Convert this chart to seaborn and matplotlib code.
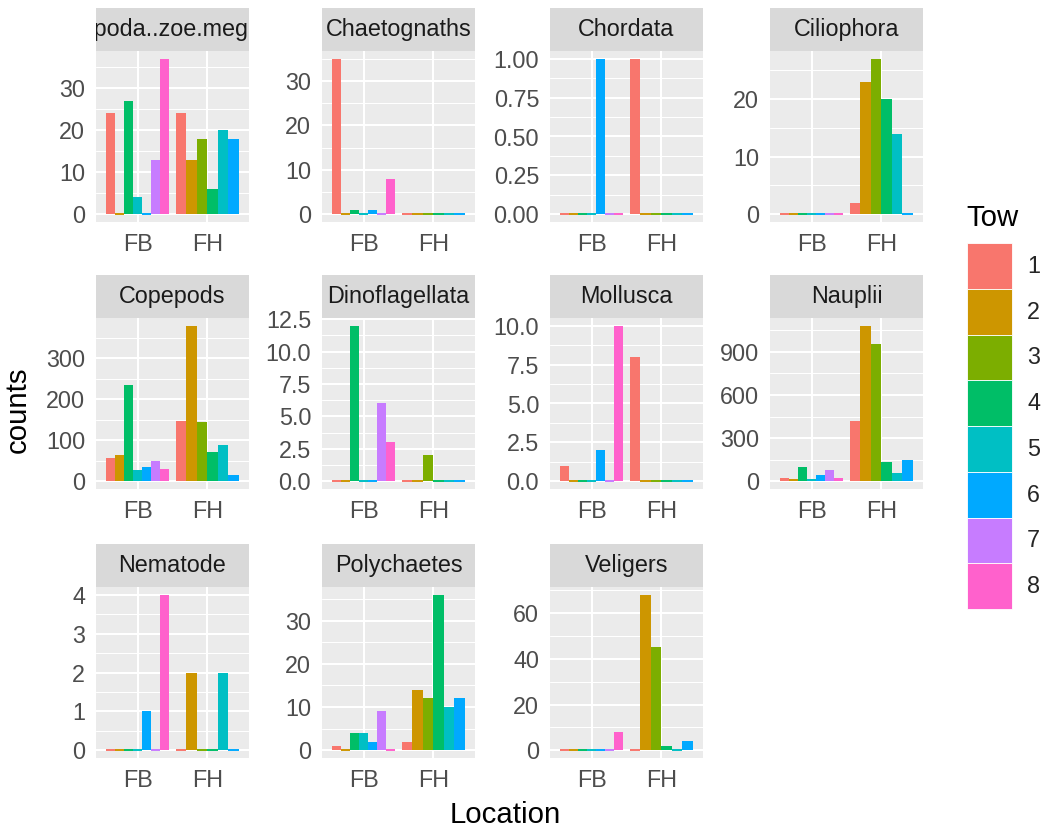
# Faceted bar chart of counts per taxon, by Location and Tow

import numpy as np
import pandas as pd
import matplotlib
matplotlib.use("Agg")
import matplotlib.pyplot as plt
from matplotlib.patches import Patch
import seaborn as sns

# ============================================================
# Data
# ============================================================

taxa = ["Decapoda..zoe.megalopa", "Chaetognaths", "Chordata", "Ciliophora",
        "Copepods", "Dinoflagellata", "Mollusca", "Nauplii",
        "Nematode", "Polychaetes", "Veligers"]
locations = ["FB", "FH"]
fb_tows = [1, 2, 4, 5, 6, 7, 8]
fh_tows = [1, 2, 3, 4, 5, 6]

fb_counts = [
    [24, 0, 27, 4, 0, 13, 37],
    [35, 0, 1, 0, 1, 0, 8],
    [0, 0, 0, 0, 1, 0, 0],
    [0, 0, 0, 0, 0, 0, 0],
    [56, 64, 235, 28, 34, 50, 30],
    [0, 0, 12, 0, 0, 6, 3],
    [1, 0, 0, 0, 2, 0, 10],
    [23, 14, 102, 16, 41, 80, 25],
    [0, 0, 0, 0, 1, 0, 4],
    [1, 0, 4, 4, 2, 9, 0],
    [0, 0, 0, 0, 0, 0, 8],
]
fh_counts = [
    [24, 13, 18, 6, 20, 18],
    [0, 0, 0, 0, 0, 0],
    [1, 0, 0, 0, 0, 0],
    [2, 23, 27, 20, 14, 0],
    [146, 379, 144, 72, 88, 14],
    [0, 0, 2, 0, 0, 0],
    [8, 0, 0, 0, 0, 0],
    [417, 1081, 951, 137, 57, 150],
    [0, 2, 0, 0, 2, 0],
    [2, 14, 12, 36, 10, 12],
    [0, 68, 45, 2, 0, 4],
]

y_breaks = [
    [0, 10, 20, 30],
    [0, 10, 20, 30],
    [0, 0.25, 0.5, 0.75, 1.0],
    [0, 10, 20],
    [0, 100, 200, 300],
    [0, 2.5, 5, 7.5, 10, 12.5],
    [0, 2.5, 5, 7.5, 10],
    [0, 300, 600, 900],
    [0, 1, 2, 3, 4],
    [0, 10, 20, 30],
    [0, 20, 40, 60],
]
y_decimals = [0, 0, 2, 0, 0, 1, 1, 0, 0, 0, 0]

tow_levels = ["1", "2", "3", "4", "5", "6", "7", "8"]
tow_colors = ["#F8766D", "#CD9600", "#7CAE00", "#00BE67",
              "#00BFC4", "#00A9FF", "#C77CFF", "#FF61CC"]

# ============================================================
# Long table with dodge positions (ggplot style, width 0.9)
# ============================================================

rows = []
for k, taxon in enumerate(taxa):
    for li, (tows, counts) in enumerate([(fb_tows, fb_counts[k]), (fh_tows, fh_counts[k])]):
        n = len(tows)
        for i, (t, c) in enumerate(zip(tows, counts)):
            rows.append({
                "taxon": taxon,
                "Location": locations[li],
                "Tow": str(t),
                "counts": c,
                "pos": li + 0.9 * ((i + 0.5) / n - 0.5),
            })
df = pd.DataFrame(rows)

# ============================================================
# Style
# ============================================================

sns.set_theme(style="darkgrid")
plt.rcParams["font.family"] = ["Liberation Sans", "DejaVu Sans"]

TICK_FS = 16.8
TITLE_FS = 21.2

W, H = 1044, 830
fig = plt.figure(figsize=(W / 100, H / 100), dpi=100)
fig.patch.set_facecolor("white")

col_left = [96, 322, 550, 770]
row_top = [51, 318, 587]
panel_w, panel_h, strip_h = 153, 171, 43

palette = dict(zip(tow_levels, tow_colors))

for k, taxon in enumerate(taxa):
    r, c = divmod(k, 4)
    x0, y0 = col_left[c], row_top[r]
    ax = fig.add_axes([x0 / W, 1 - (y0 + panel_h) / H, panel_w / W, panel_h / H])
    ax.set_facecolor("#EBEBEB")

    for loc in locations:
        sub = df[(df["taxon"] == taxon) & (df["Location"] == loc)]
        sns.barplot(data=sub, x="pos", y="counts", hue="Tow",
                    hue_order=tow_levels, palette=palette, saturation=1,
                    native_scale=True, dodge=False, width=1.0,
                    errorbar=None, legend=False, linewidth=0, ax=ax)

    # zero-height bars show as thin coloured lines
    for p in ax.patches:
        if p.get_height() == 0:
            p.set_edgecolor(p.get_facecolor())
            p.set_linewidth(1.4)

    ymax = df.loc[df["taxon"] == taxon, "counts"].max()
    ax.set_ylim(-0.05 * ymax, 1.05 * ymax)
    ax.set_xlim(-0.6, 1.6)

    breaks = y_breaks[k]
    step = breaks[1] - breaks[0]
    minors = np.arange(breaks[0] - step / 2, breaks[-1] + step, step)
    minors = [m for m in minors if -0.05 * ymax <= m <= 1.05 * ymax]
    ax.set_yticks(breaks)
    ax.set_yticklabels([f"{b:.{y_decimals[k]}f}" for b in breaks])
    ax.set_yticks(minors, minor=True)
    ax.set_xticks([0, 1])
    ax.set_xticklabels(locations)
    ax.set_xlabel("")
    ax.set_ylabel("")

    ax.set_axisbelow(True)
    ax.grid(which="major", color="white", linewidth=1.5)
    ax.grid(which="minor", axis="y", color="white", linewidth=0.75)
    ax.tick_params(which="major", length=4.8, width=1.2, color="#333333",
                   labelsize=TICK_FS, labelcolor="#4D4D4D", pad=3)
    ax.tick_params(which="minor", length=0)
    for s in ax.spines.values():
        s.set_visible(False)

    # facet strip
    sax = fig.add_axes([x0 / W, 1 - y0 / H, panel_w / W, strip_h / H])
    sax.set_facecolor("#D9D9D9")
    sax.set_xticks([])
    sax.set_yticks([])
    for s in sax.spines.values():
        s.set_visible(False)
    sax.text(0.5, 0.5, taxon, ha="center", va="center", fontsize=TICK_FS,
             color="#1A1A1A", transform=sax.transAxes, clip_on=True)

# ============================================================
# Axis titles and legend
# ============================================================

fig.text(18 / W, 1 - 410 / H, "counts", rotation=90, ha="center", va="center",
         fontsize=TITLE_FS, color="black")
fig.text(505 / W, 1 - 815 / H, "Location", ha="center", va="center",
         fontsize=TITLE_FS, color="black")

fig.text(966 / W, 1 - 218 / H, "Tow", ha="left", va="center",
         fontsize=TITLE_FS, color="black")

handles = [Patch(facecolor=col, edgecolor="white", linewidth=0.6, label=lab)
           for lab, col in zip(tow_levels, tow_colors)]
fig.legend(handles=handles, loc="upper left",
           bbox_to_anchor=(967 / W, 1 - 243 / H),
           frameon=False, fontsize=TICK_FS, handlelength=1.93, handleheight=2.64,
           labelspacing=0, handletextpad=0.65, borderpad=0, borderaxespad=0)

fig.savefig("out.png", dpi=100)
